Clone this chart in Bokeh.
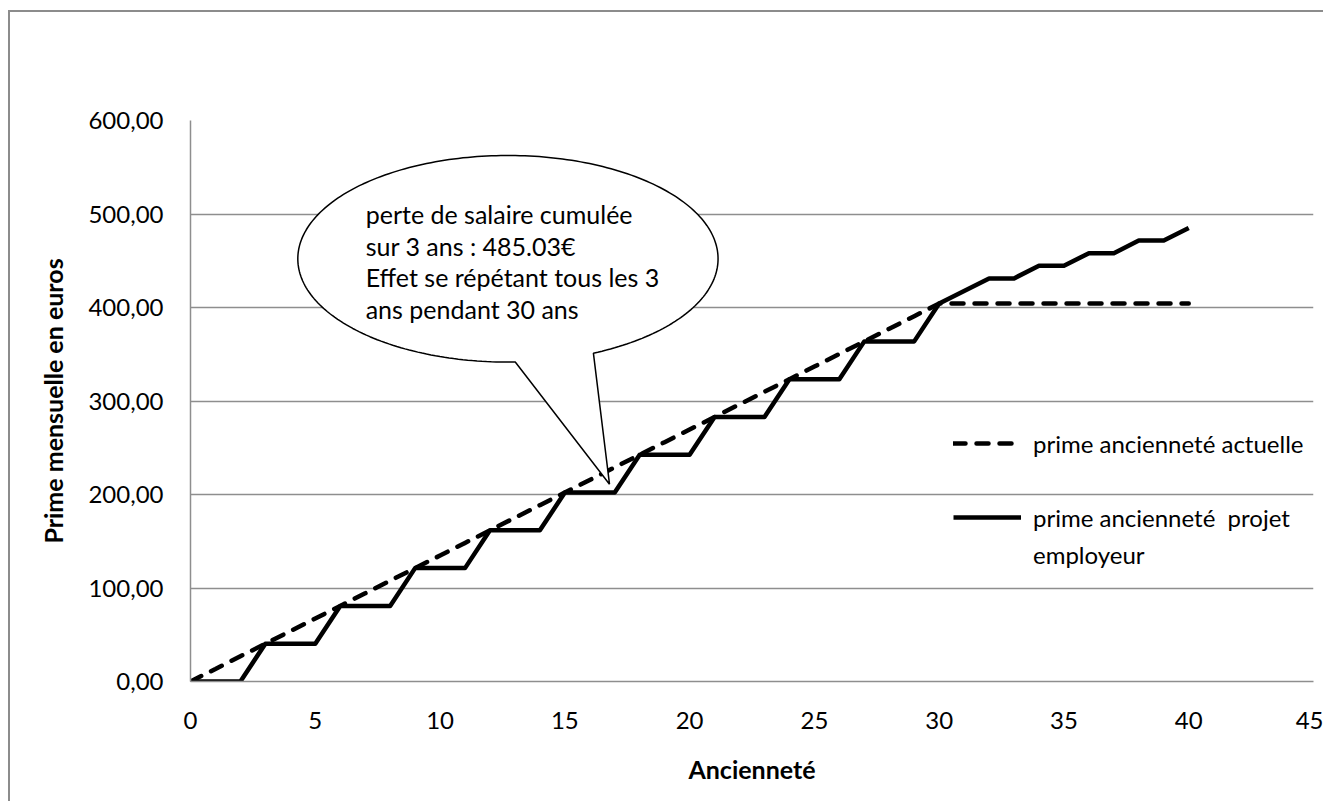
import numpy as np
from bokeh.plotting import figure
from bokeh.models import FixedTicker, Legend, LegendItem, Range1d
from bokeh.core.properties import value
from bokeh.embed import file_html
from bokeh.resources import INLINE

# ---------------- data ----------------
anciennete = list(range(0, 41))
prime_actuelle = [0.00, 13.47, 26.95, 40.42, 53.89, 67.37, 80.84, 94.31, 107.78, 121.26,
                  134.73, 148.20, 161.68, 175.15, 188.62, 202.10, 215.57, 229.04, 242.51, 255.99,
                  269.46, 282.93, 296.41, 309.88, 323.35, 336.83, 350.30, 363.77, 377.24, 390.72,
                  404.19, 404.19, 404.19, 404.19, 404.19, 404.19, 404.19, 404.19, 404.19, 404.19,
                  404.19]
prime_projet = [0.00, 0.00, 0.00, 40.42, 40.42, 40.42, 80.84, 80.84, 80.84, 121.26,
                121.26, 121.26, 161.68, 161.68, 161.68, 202.10, 202.10, 202.10, 242.51, 242.51,
                242.51, 282.93, 282.93, 282.93, 323.35, 323.35, 323.35, 363.77, 363.77, 363.77,
                404.19, 417.66, 431.14, 431.14, 444.61, 444.61, 458.08, 458.08, 471.56, 471.56,
                485.03]
x_ticks = [0, 5, 10, 15, 20, 25, 30, 35, 40, 45]
y_ticks = [0, 100, 200, 300, 400, 500, 600]
y_tick_labels = ["0,00", "100,00", "200,00", "300,00", "400,00", "500,00", "600,00"]
series_names = ["prime ancienneté actuelle", "prime ancienneté  projet", "employeur"]
x_title = "Ancienneté"
y_title = "Prime mensuelle en euros"
callout_lines = ["perte de salaire cumulée", "sur 3 ans : 485.03€",
                 "Effet se répétant tous les 3", "ans pendant 30 ans"]

FONT = "Lato"
GRID = "#8e8e8e"

p = figure(width=1315, height=791,
           x_range=Range1d(0, 45), y_range=Range1d(0, 600),
           output_backend="svg", toolbar_location=None,
           min_border_left=180, min_border_right=12,
           min_border_top=108, min_border_bottom=122,
           background_fill_color="white", border_fill_color="white",
           outline_line_color=None,
           styles={"margin-left": "8px", "margin-top": "10px",
                   "border-left": "2px solid #8c8c8c",
                   "border-top": "2px solid #8c8c8c"})

# axes
p.xaxis.ticker = FixedTicker(ticks=x_ticks)
p.yaxis.ticker = FixedTicker(ticks=y_ticks)
p.yaxis.major_label_overrides = {t: l for t, l in zip(y_ticks, y_tick_labels)}
for ax in (p.xaxis[0], p.yaxis[0]):
    ax.axis_line_color = GRID
    ax.axis_line_width = 1.5
    ax.major_tick_line_color = None
    ax.minor_tick_line_color = None
    ax.major_tick_out = 0
    ax.major_tick_in = 0
    ax.major_label_text_font = FONT
    ax.major_label_text_font_size = "24px"
    ax.major_label_text_color = "black"
    ax.axis_label_text_font = FONT
    ax.axis_label_text_font_size = "25px"
    ax.axis_label_text_font_style = "bold"
    ax.axis_label_text_color = "black"
p.xaxis.axis_label = x_title
p.yaxis.axis_label = y_title
p.xaxis.major_label_standoff = 30
p.xaxis.axis_label_standoff = 22
p.yaxis.major_label_standoff = 27
p.yaxis.axis_label_standoff = 17

p.xgrid.visible = False
p.ygrid.grid_line_color = GRID
p.ygrid.grid_line_width = 1.5

# series
r1 = p.line(anciennete, prime_actuelle, line_color="black", line_width=4.5,
            line_dash="12 11", line_cap="round")
r2 = p.line(anciennete, prime_projet, line_color="black", line_width=4.5,
            line_join="round")
r_blank = p.line(x=[], y=[], line_alpha=0)

# callout bubble
cx, cy, ea, eb = 12.72, 452.1, 8.42, 110.5
tip_x, tip_y = 16.79, 211.0
t = np.radians(np.linspace(-66, 272, 260))
bx = list(cx + ea * np.cos(t)) + [tip_x]
by = list(cy + eb * np.sin(t)) + [tip_y]
p.patch(bx, by, fill_color="white", line_color="black", line_width=1.5)

txt_x = 7.02
txt_y0 = 499.5
txt_dy = 33.7
p.text(x=[txt_x] * len(callout_lines),
       y=[txt_y0 - i * txt_dy for i in range(len(callout_lines))],
       text=callout_lines, text_font=value(FONT), text_font_size="25px",
       text_color="black", text_align="left", text_baseline="alphabetic")

# legends (location = bottom-left corner, screen px from frame bottom-left)
def mk_legend(items, loc, spacing=0):
    lg = Legend(items=items, location=loc, spacing=spacing, padding=0, margin=0,
                border_line_color=None, background_fill_alpha=0,
                label_text_font=FONT, label_text_font_size="24px",
                label_text_color="black",
                glyph_width=68, glyph_height=20, label_standoff=12,
                label_height=20)
    return lg

legA = mk_legend([LegendItem(label=series_names[0], renderers=[r1])], (763, 223.5))
legB = mk_legend([LegendItem(label=series_names[1], renderers=[r2]),
                  LegendItem(label=series_names[2], renderers=[r_blank])],
                 (763, 112.5), spacing=8)
p.add_layout(legA)
p.add_layout(legB)

open("out.html", "w").write(file_html(p, INLINE))
